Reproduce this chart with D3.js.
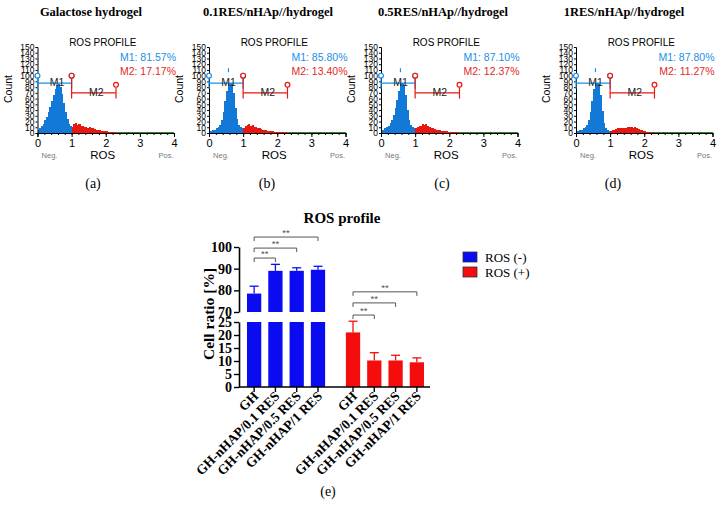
<!DOCTYPE html>
<html><head><meta charset="utf-8">
<script src="https://cdn.jsdelivr.net/npm/d3@7"></script>
<style>body{margin:0;background:#fff} svg{display:block}</style>
</head><body>
<svg id="c" width="721" height="511"></svg>
<script>
// ---------- DATA ----------
const panelTitles = ["Galactose hydrogel","0.1RES/nHAp//hydrogel","0.5RES/nHAp//hydrogel","1RES/nHAp//hydrogel"];
const panelLetters = ["(a)","(b)","(c)","(d)"];
const m1Values = ["81.57%","85.80%","87.10%","87.80%"];
const m2Values = ["17.17%","13.40%","12.37%","11.27%"];
const binWidth = 0.05;
const histA = [6,9,12,16,22,28,36,45,55,66,76,83,85,80,68,52,36,24,16,12,
  11,15,17,14,15,12,13,10,11,9,10,8,9,7,6,6,5,4,4,3,3,2,2,2,1,1,
  1,1,2,1,1,1,1,1,1,1,1,1,1,1,1,1,1,1,1,1,1,1,1,1,1,1,1,1,1,1,1,1,1,1];
const histB = [3,4,5,6,8,10,14,22,36,55,74,86,88,86,70,44,24,14,10,8,
  9,12,14,16,13,14,11,10,9,8,7,6,5,5,4,3,3,3,2,2,2,1,1,1,1,1,
  1,1,1,1,1,1,1,1,1,1,1,1,1,1,1,1,1,1,1,1,1,1,1,1,1,1,1,1,1,1,1,1,1,1];
const histC = [5,6,8,10,13,17,23,32,44,58,74,85,87,84,66,40,22,14,10,8,
  8,10,12,13,15,14,16,12,11,9,8,7,6,5,5,4,3,3,3,2,2,2,1,1,1,1,
  1,1,1,1,1,1,1,1,1,1,1,1,1,1,1,1,1,1,1,1,1,1,1,1,1,1,1,1,1,1,1,1,1,1];
const histD = [3,4,5,6,8,10,14,22,36,56,76,86,88,85,66,38,18,8,5,3,
  3,5,6,7,8,8,9,9,8,9,10,11,10,9,10,8,7,6,5,4,3,2,2,1,1,1,
  1,1,1,1,1,1,1,1,1,1,1,1,1,1,1,1,1,1,1,1,1,1,1,1,1,1,1,1,1,1,1,1,1,1];
const histograms = [histA, histB, histC, histD];
const peakMark = [null, 0.57, 0.57, 0.57];
const histYTicks = [0,10,20,30,40,50,60,70,80,90,100,110,120,130,140,150];
const histXTicks = [0,1,2,3,4];
const gateM1 = [0, 1];
const gateM2 = [1, 2.3];

const groups = ["ROS (-)", "ROS (+)"];
const samples = ["GH", "GH-nHAP/0.1 RES", "GH-nHAP/0.5 RES", "GH-nHAP/1 RES"];
const rosNeg = [78.5, 89.0, 89.0, 89.5];
const rosNegErr = [3.4, 3.0, 1.4, 1.6];
const rosPos = [21.0, 10.2, 10.2, 9.5];
const rosPosErr = [4.3, 3.0, 2.0, 1.7];
const upperTicks = [70, 80, 90, 100];
const lowerTicks = [0, 5, 10, 15, 20, 25];
const sigPairs = [[0,1],[0,2],[0,3]];
const sigLabel = "**";

// ---------- LAYOUT ----------
const svg = d3.select("#c");
const serif = "'Liberation Serif','Times New Roman',serif";
const sans = "'Liberation Sans',Arial,sans-serif";
const histLeft = [37.5, 209, 381, 576];
const histW = 136.5, histTop = 47, histBottom = 133;
const titleCx = [91, 268, 443, 624];
const letterCx = [93, 267, 442, 613];
const blueH = "#1379d6", redH = "#e8170f", greenH = "#2f8a2f";
const blueT = "#1a8fe6", redT = "#e42a22";

histograms.forEach((h, i) => {
  const L = histLeft[i];
  const x = d3.scaleLinear([0, 4], [L, L + histW]);
  const y = d3.scaleLinear([0, 150], [histBottom, histTop]);
  const g = svg.append("g");

  g.append("text").attr("x", titleCx[i]).attr("y", 16).attr("text-anchor","middle")
    .attr("font-family", serif).attr("font-weight","bold").attr("font-size", 12.5).text(panelTitles[i]);
  g.append("text").attr("x", x(2) - 3).attr("y", 46).attr("text-anchor","middle")
    .attr("font-family", sans).attr("font-size", 10).text("ROS PROFILE");

  // histogram bars
  g.append("g").attr("shape-rendering","crispEdges").selectAll("rect").data(h).join("rect")
    .attr("x", (d, k) => x(k * binWidth))
    .attr("width", x(binWidth) - x(0) + 0.4)
    .attr("y", d => y(d))
    .attr("height", d => y(0) - y(d))
    .attr("fill", (d, k) => k * binWidth < gateM1[1] - 1e-9 ? blueH : (k * binWidth < gateM2[1] - 1e-9 ? redH : greenH));

  // axes
  const ya = d3.axisLeft(y).tickValues(histYTicks).tickSize(2).tickPadding(1);
  const yg = g.append("g").attr("transform", `translate(${L},0)`).call(ya);
  yg.selectAll("text").attr("font-family", sans).attr("font-size", 8.5);
  const xa = d3.axisBottom(x).tickValues(histXTicks).tickSize(4).tickPadding(2).tickFormat(d3.format("d"));
  const xg = g.append("g").attr("transform", `translate(0,${histBottom})`).call(xa);
  xg.selectAll("text").attr("font-family", sans).attr("font-size", 11);
  const xm = d3.axisBottom(x).tickValues(d3.range(0, 4.01, 0.2)).tickSize(2).tickFormat("");
  g.append("g").attr("transform", `translate(0,${histBottom})`).call(xm).select(".domain").remove();

  g.append("text").attr("transform", `translate(${L - 26},89) rotate(-90)`).attr("text-anchor","middle")
    .attr("font-family", sans).attr("font-size", 10.5).text("Count");
  g.append("text").attr("x", L + 12).attr("y", 158).attr("text-anchor","middle")
    .attr("font-family", sans).attr("font-size", 7.5).attr("fill","#777").text("Neg.");
  g.append("text").attr("x", x(2) - 3).attr("y", 159).attr("text-anchor","middle")
    .attr("font-family", sans).attr("font-size", 11.5).text("ROS");
  g.append("text").attr("x", x(4) - 8).attr("y", 158).attr("text-anchor","middle")
    .attr("font-family", sans).attr("font-size", 7.5).attr("fill","#777").text("Pos.");

  // gate markers
  const drawGate = (gate, level, endTop, col, label) => {
    const gg = g.append("g").attr("stroke", col).attr("stroke-width", 1.2).attr("fill","none");
    gg.append("line").attr("x1", x(gate[0])).attr("x2", x(gate[1])).attr("y1", y(level)).attr("y2", y(level));
    gate.forEach((v, k) => {
      const top = endTop[k];
      gg.append("line").attr("x1", x(v)).attr("x2", x(v)).attr("y1", y(top - 4)).attr("y2", y(level - 10));
      gg.append("circle").attr("cx", x(v)).attr("cy", y(top)).attr("r", 2.4).attr("fill","#fff");
    });
    g.append("text").attr("x", x((gate[0] + gate[1]) / 2 + 0.07)).attr("y", y(level) + 3)
      .attr("text-anchor","middle").attr("font-family", sans).attr("font-size", 10.5)
      .attr("fill", "#222").text(label);
  };
  drawGate(gateM1, 87, [100, 100], blueT, "M1");
  drawGate(gateM2, 70, [100, 84], redH, "M2");
  if (peakMark[i] !== null) {
    g.append("line").attr("x1", x(peakMark[i])).attr("x2", x(peakMark[i])).attr("y1", y(106)).attr("y2", y(113))
      .attr("stroke", blueT).attr("stroke-width", 1.2);
  }

  g.append("text").attr("x", x(4) + 2).attr("y", 61).attr("text-anchor","end")
    .attr("font-family", sans).attr("font-size", 10.5).attr("fill", blueT).text("M1: " + m1Values[i]);
  g.append("text").attr("x", x(4) + 2).attr("y", 75).attr("text-anchor","end")
    .attr("font-family", sans).attr("font-size", 10.5).attr("fill", redT).text("M2: " + m2Values[i]);

  svg.append("text").attr("x", letterCx[i]).attr("y", 188).attr("text-anchor","middle")
    .attr("font-family", serif).attr("font-size", 14).text(panelLetters[i]);
});

// ---------- BAR CHART ----------
const axisX = 239;
const yU = d3.scaleLinear([70, 100], [312, 247]);
const yL = d3.scaleLinear([0, 25], [387, 322]);
const outer = d3.scaleBand(groups, [247, 424]).paddingInner(0.21).paddingOuter(0);
const inner = d3.scaleBand(samples, [0, outer.bandwidth()]).paddingInner(0.33).paddingOuter(0);
const bw = inner.bandwidth();
const cx = (gr, s) => outer(gr) + inner(s) + bw / 2;
const barBlue = "#0b0bf2", barRed = "#f50c0c";

const bc = svg.append("g");
bc.append("text").attr("x", 342).attr("y", 223).attr("text-anchor","middle")
  .attr("font-family", serif).attr("font-weight","bold").attr("font-size", 15).text("ROS profile");

const seriesList = [
  {group: groups[0], vals: rosNeg, errs: rosNegErr, col: barBlue},
  {group: groups[1], vals: rosPos, errs: rosPosErr, col: barRed}
];
seriesList.forEach(S => {
  samples.forEach((s, k) => {
    const v = S.vals[k], e = S.errs[k];
    const x0 = outer(S.group) + inner(s);
    const ys = v > 70 ? yU : yL;
    if (v > 70) {
      bc.append("rect").attr("x", x0).attr("width", bw).attr("y", yU(v)).attr("height", yU(70) - yU(v)).attr("fill", S.col);
      bc.append("rect").attr("x", x0).attr("width", bw).attr("y", yL(25)).attr("height", yL(0) - yL(25)).attr("fill", S.col);
    } else {
      bc.append("rect").attr("x", x0).attr("width", bw).attr("y", yL(v)).attr("height", yL(0) - yL(v)).attr("fill", S.col);
    }
    bc.append("line").attr("x1", x0 + bw/2).attr("x2", x0 + bw/2).attr("y1", ys(v)).attr("y2", ys(v + e)).attr("stroke", S.col).attr("stroke-width", 1.3);
    bc.append("line").attr("x1", x0 + bw/2 - 4.5).attr("x2", x0 + bw/2 + 4.5).attr("y1", ys(v + e)).attr("y2", ys(v + e)).attr("stroke", S.col).attr("stroke-width", 1.3);
  });
});

// y axes (broken)
const styleAxis = sel => {
  sel.select(".domain").attr("stroke-width", 1.6);
  sel.selectAll(".tick line").attr("stroke-width", 1.4);
  sel.selectAll("text").attr("font-family", serif).attr("font-weight","bold").attr("font-size", 14);
};
bc.append("g").attr("transform", `translate(${axisX},0)`)
  .call(d3.axisLeft(yU).tickValues(upperTicks).tickSize(5).tickSizeOuter(0).tickPadding(2)).call(styleAxis);
bc.append("g").attr("transform", `translate(${axisX},0)`)
  .call(d3.axisLeft(yL).tickValues(lowerTicks).tickSize(5).tickSizeOuter(0).tickPadding(2)).call(styleAxis);

// x axis
bc.append("line").attr("x1", axisX).attr("x2", 430).attr("y1", yL(0)).attr("y2", yL(0)).attr("stroke","#000").attr("stroke-width", 1.6);
groups.forEach(gr => samples.forEach(s => {
  const c = cx(gr, s);
  bc.append("line").attr("x1", c).attr("x2", c).attr("y1", yL(0)).attr("y2", yL(0) + 5).attr("stroke","#000").attr("stroke-width", 1.4);
  bc.append("text").attr("transform", `translate(${c + 5},${yL(0) + 10}) rotate(-45)`)
    .attr("text-anchor","end").attr("font-family", serif).attr("font-weight","bold").attr("font-size", 13.5).text(s);
}));

bc.append("text").attr("transform", `translate(214,314) rotate(-90)`).attr("text-anchor","middle")
  .attr("font-family", serif).attr("font-weight","bold").attr("font-size", 15.5).text("Cell ratio [%]");

// significance brackets
const sigLevels = {[groups[0]]: [94.9, 99.5, 104.6], [groups[1]]: [68.6, 74.2, 79.3]};
groups.forEach(gr => {
  sigPairs.forEach((p, k) => {
    const yy = yU(sigLevels[gr][k]);
    const xa = cx(gr, samples[p[0]]), xb = cx(gr, samples[p[1]]);
    const sg = bc.append("g").attr("stroke","#555").attr("stroke-width",1).attr("fill","none");
    sg.append("path").attr("d", `M${xa},${yy + 4}V${yy}H${xb}V${yy + 4}`);
    bc.append("text").attr("x", (xa + xb) / 2).attr("y", yy - 1).attr("text-anchor","middle")
      .attr("font-family", sans).attr("font-size", 9.5).attr("fill","#555").text(sigLabel);
  });
});

// legend
[barBlue, barRed].forEach((col, k) => {
  bc.append("rect").attr("x", 463).attr("y", 252 + k * 15).attr("width", 14).attr("height", 10)
    .attr("fill", col).attr("stroke","#333").attr("stroke-width", 0.8);
  bc.append("text").attr("x", 485).attr("y", 261.5 + k * 15)
    .attr("font-family", serif).attr("font-size", 13).text(groups[k]);
});

svg.append("text").attr("x", 328).attr("y", 496).attr("text-anchor","middle")
  .attr("font-family", serif).attr("font-size", 14).text("(e)");
</script>
</body></html>
